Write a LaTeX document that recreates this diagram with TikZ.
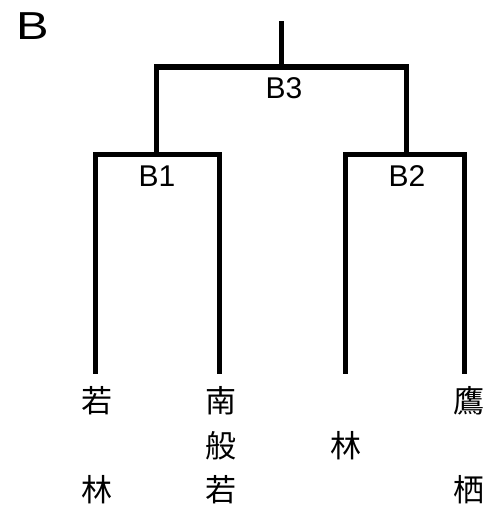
\documentclass[tikz,border=0pt]{standalone}
\usepackage{fontspec}
\setmainfont{Liberation Sans}
\newfontfamily\cjk{Noto Sans CJK JP}
\tikzset{
  branch/.style={line width=5pt, line join=miter, line cap=rect},
  lab/.style={inner sep=0pt, font=\fontsize{30}{32}\selectfont},
  leaf/.style={inner sep=0pt, font=\cjk\fontsize{31}{32}\selectfont},
}
\begin{document}
\begin{tikzpicture}[x=1pt,y=-1pt]
\useasboundingbox (0,0) rectangle (492,511);
\node[inner sep=0pt, font=\fontsize{39}{40}\selectfont, xscale=1.25] (title) at (32.5,26) {B};
% coordinates
\coordinate (top) at (281,24);
\coordinate (b3) at (281,67);
\coordinate (b3l) at (156,67);
\coordinate (b3r) at (406,67);
\coordinate (b1) at (156,154);
\coordinate (b1l) at (95,154);
\coordinate (b1r) at (219,154);
\coordinate (b2) at (406,154);
\coordinate (b2l) at (345,154);
\coordinate (b2r) at (464,154);
\coordinate (l1) at (95,371);
\coordinate (l2) at (219,371);
\coordinate (l3) at (345,371);
\coordinate (l4) at (464,371);
% tree
\draw[branch] (top) -- (b3);
\draw[branch] (b1) -- (b3l) -- (b3r) -- (b2);
\draw[branch] (l1) -- (b1l) -- (b1r) -- (l2);
\draw[branch] (l3) -- (b2l) -- (b2r) -- (l4);
% labels
\node[lab] (B3) at (284,88) {B3};
\node[lab] (B1) at (157,176) {B1};
\node[lab] (B2) at (407,176) {B2};
% leaves
\node[leaf] (c11) at (97,401) {若};
\node[leaf] (c12) at (97,490) {林};
\node[leaf] (c21) at (221,401) {南};
\node[leaf] (c22) at (221,446) {般};
\node[leaf] (c23) at (221,490) {若};
\node[leaf] (c31) at (346,446) {林};
\node[leaf] (c41) at (469,401) {鷹};
\node[leaf] (c42) at (469,490) {栖};
\end{tikzpicture}
\end{document}
